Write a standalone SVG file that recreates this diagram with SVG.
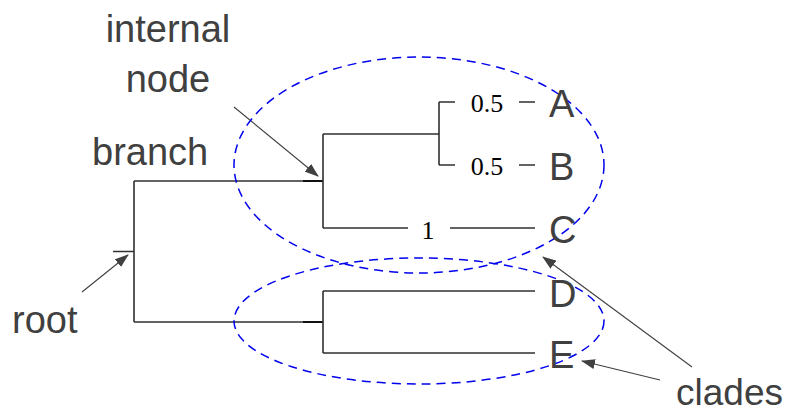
<svg xmlns="http://www.w3.org/2000/svg" width="790" height="414" viewBox="0 0 790 414">
<style>
.lbl{font-family:"Liberation Sans",Arial,sans-serif;font-size:38px;fill:#404040}
.num{font-family:"Liberation Serif","Times New Roman",serif;font-size:26px;fill:#000;text-anchor:middle}
.tree{stroke:#303030;stroke-width:1.6;fill:none}
.clade{stroke:#0000ee;stroke-width:1.5;fill:none;stroke-dasharray:9 6}
.ann{stroke:#404040;stroke-width:1.1;fill:none;marker-end:url(#ah)}
</style>
<defs>
<marker id="ah" markerWidth="14" markerHeight="10" refX="13" refY="5" orient="auto" markerUnits="userSpaceOnUse">
<path d="M0,0 L14,5 L0,10 Z" fill="#404040"/>
</marker>
</defs>
<rect width="790" height="414" fill="#fff"/>
<g id="connectors">
<path class="tree" d="M113,251.5 H134 M134,181 V322 M134,181 H323 M134,322 H323"/>
<path d="M303,181 H323 M303,322 H323" stroke="#111" stroke-width="2.2"/>
<path class="tree" d="M323,134 V228 M323,134 H439 M439,102 V165 M439,102 H455 M519,102 H535 M439,165 H455 M519,165 H535 M323,228 H408 M450,228 H535"/>
<path class="tree" d="M323,291 V353 M323,291 H535 M323,353 H535"/>
<line class="ann" x1="234" y1="107" x2="318" y2="176"/>
<line class="ann" x1="82" y1="292" x2="128" y2="255"/>
<line class="ann" x1="692" y1="367" x2="543" y2="257"/>
<line class="ann" x1="660" y1="380" x2="582" y2="361"/>
</g>
<g id="clade-upper"><ellipse class="clade" cx="419" cy="165" rx="185" ry="108"/></g>
<g id="clade-lower"><ellipse class="clade" cx="419" cy="321" rx="185" ry="63"/></g>
<g id="branch-labels">
<text class="num" x="487" y="112">0.5</text>
<text class="num" x="487" y="175">0.5</text>
<text class="num" x="428" y="239">1</text>
</g>
<g id="leaf-A"><text class="lbl" x="549" y="117">A</text></g>
<g id="leaf-B"><text class="lbl" x="549" y="180">B</text></g>
<g id="leaf-C"><text class="lbl" x="549" y="243">C</text></g>
<g id="leaf-D"><text class="lbl" x="549" y="307">D</text></g>
<g id="leaf-E"><text class="lbl" x="549" y="368">E</text></g>
<g id="label-internal-node"><text class="lbl" x="168" y="42" text-anchor="middle">internal</text><text class="lbl" x="168" y="92" text-anchor="middle">node</text></g>
<g id="label-branch"><text class="lbl" x="92" y="165">branch</text></g>
<g id="label-root"><text class="lbl" x="12" y="333">root</text></g>
<g id="label-clades"><text class="lbl" x="676" y="405" style="font-size:37px">clades</text></g>
</svg>
